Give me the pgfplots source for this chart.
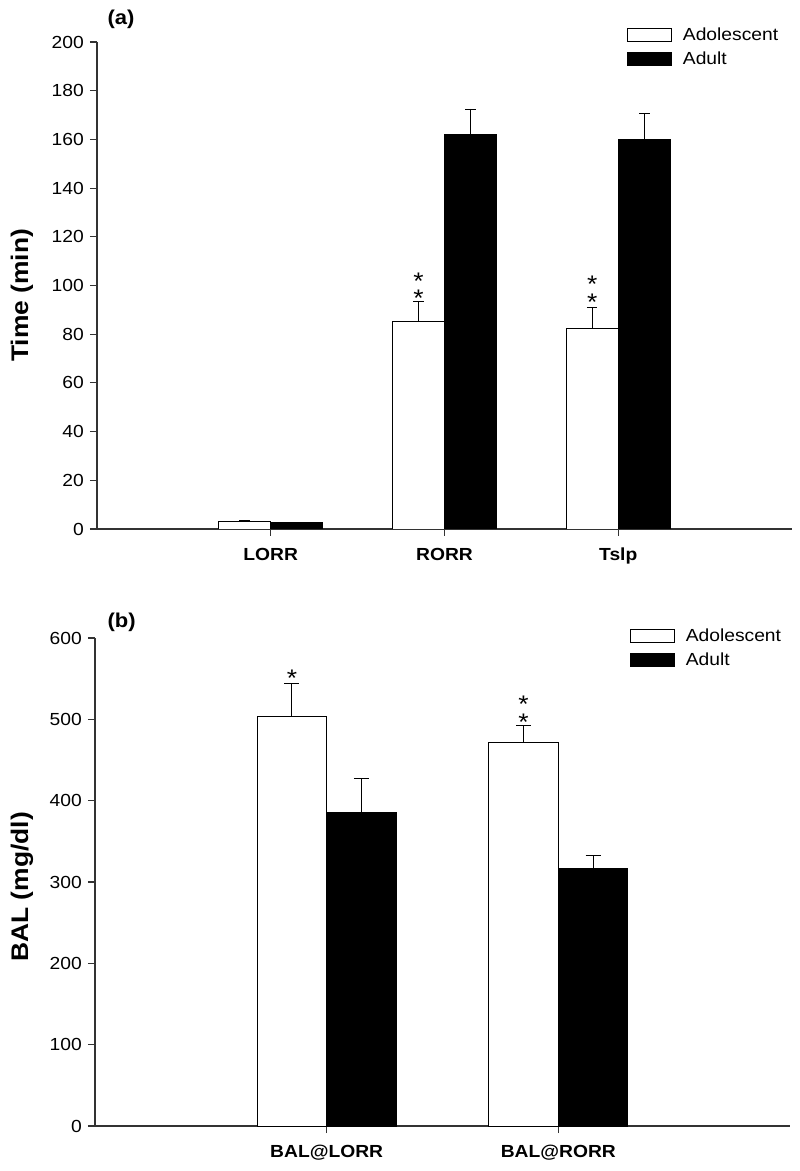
\documentclass[border=0pt]{standalone}
\usepackage{pgfplots}
\pgfplotsset{compat=1.18}
\usepackage{fontspec}
\setmainfont[FakeStretch=1.1]{Liberation Sans}

\tikzset{stars/.style={font=\fontsize{24}{12}\selectfont, inner sep=0pt, anchor=north, align=center}}

\pgfplotsset{
  panel/.style={
    scale only axis,
    width=695pt,
    axis x line=bottom,
    axis y line=left,
    axis line style={-, line width=1.3pt, black!80},
    tick align=outside,
    major tick length=7pt,
    tick style={line width=1.1pt, black!80},
    /pgf/number format/assume math mode=true,
    yticklabel style={font=\fontsize{17.5}{17.5}\selectfont, inner sep=0pt, xshift=-6pt},
    xticklabel style={font=\fontsize{17.5}{17.5}\bfseries\selectfont, inner sep=0pt, yshift=-12pt},
    ylabel style={font=\fontsize{24}{24}\bfseries\selectfont, anchor=center},
    xtick=data,
    ybar,
    bar width=0.3,
    legend cell align=left,
    legend style={draw=none, fill=none, inner sep=0pt, anchor=north west,
      font=\fontsize{17.5}{17.5}\selectfont, row sep=4pt,
      nodes={inner sep=3pt}},
    legend image code/.code={\draw[#1] (0pt,-6.5pt) rectangle (44pt,6.5pt);
      \path[draw=none, fill=none] (0pt,0pt) -- (52pt,0pt);},
    error bars/error bar style={line width=0.9pt, black},
  },
  adol/.style={fill=white, draw=black, line width=0.9pt, bar shift=-0.15},
  adult/.style={fill=black, draw=black, line width=0.9pt, bar shift=0.15},
}

\begin{document}
\begin{tikzpicture}
\path[use as bounding box] (0pt,0pt) rectangle (800pt,1171pt);

% (a) times
\begin{axis}[panel,
  at={(97pt,642pt)}, anchor=south west,
  height=487pt,
  xmin=-1, xmax=3,
  ymin=0, ymax=200, ytick distance=20,
  xticklabels={LORR,RORR,Tslp},
  ylabel={Time (min)},
  ylabel style={at={(axis description cs:-0.108,0.48)}},
  legend style={at={(axis description cs:0.763,1.036)}},
  error bars/error mark options={rotate=90, mark size=5.2pt, line width=0.9pt, black},
]
\addplot[adol, error bars/.cd, y dir=plus, y explicit] coordinates {
  (0,3.3) +- (0,0.3)
  (1,85.4) +- (0,8)
  (2,82.5) +- (0,8.3)
};
\addplot[adult, error bars/.cd, y dir=plus, y explicit] coordinates {
  (0,2.6) +- (0,0.2)
  (1,162.2) +- (0,10.3)
  (2,160) +- (0,10.5)
};
\legend{Adolescent,Adult}
\node[stars] at (axis cs:0.85,105.3) {*\\*};
\node[stars] at (axis cs:1.85,103.9) {*\\*};
\end{axis}
\node[font=\fontsize{20}{20}\bfseries\selectfont, anchor=base west] at (104pt,1146pt) {(a)};

% (b) BAL
\begin{axis}[panel,
  at={(95pt,45pt)}, anchor=south west,
  height=488pt,
  xmin=-1, xmax=2,
  ymin=0, ymax=600, ytick distance=100,
  xticklabels={BAL@LORR,BAL@RORR},
  ylabel={BAL (mg/dl)},
  ylabel style={at={(axis description cs:-0.105,0.49)}},
  legend style={at={(axis description cs:0.77,1.026)}},
  error bars/error mark options={rotate=90, mark size=7.5pt, line width=0.9pt, black},
]
\addplot[adol, error bars/.cd, y dir=plus, y explicit] coordinates {
  (0,504) +- (0,40)
  (1,472) +- (0,21)
};
\addplot[adult, error bars/.cd, y dir=plus, y explicit] coordinates {
  (0,385) +- (0,42)
  (1,317) +- (0,16)
};
\legend{Adolescent,Adult}
\node[stars] at (axis cs:-0.15,560.7) {*};
\node[stars] at (axis cs:0.85,528.7) {*\\*};
\end{axis}
\node[font=\fontsize{20}{20}\bfseries\selectfont, anchor=base west] at (104pt,543pt) {(b)};
\end{tikzpicture}
\end{document}
